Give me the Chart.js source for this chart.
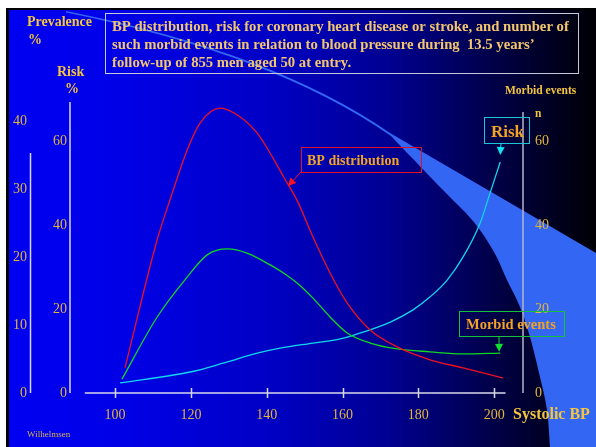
<!DOCTYPE html>
<html>
<head>
<meta charset="utf-8">
<script src="https://cdn.jsdelivr.net/npm/chart.js@4.4.1/dist/chart.umd.min.js"></script>
<style>
  html, body { margin: 0; padding: 0; background: #fff; }
  canvas { display: block; }
</style>
</head>
<body>
<canvas id="bpChart" width="596" height="447"></canvas>
<script>
// systolic BP ticks
const xTicks = [100, 120, 140, 160, 180, 200];
const prevTicks = [0, 10, 20, 30, 40];
const riskTicks = [0, 20, 40, 60];
const eventTicks = [0, 20, 40, 60];

// BP distribution (prevalence %)
const bpX = [102.6, 111.1, 114.5, 119.0, 122.4, 127.7, 133.0, 137.5, 141.7, 144.5, 148.0, 152.2, 156.7, 161.2, 167.3, 174.4, 183.1, 191.8, 202.4];
const bpPrevalence = [3.7, 22.6, 28.5, 35.8, 39.8, 42.0, 40.7, 38.3, 34.6, 31.8, 28.4, 23.0, 17.7, 13.3, 9.3, 6.8, 4.9, 3.7, 2.2];

// morbid events (n)
const eventX = [101.8, 111.1, 119.0, 124.3, 129.6, 134.8, 140.9, 144.9, 148.0, 152.2, 156.7, 161.2, 167.3, 174.4, 183.1, 191.8, 201.6];
const morbidEvents = [3.3, 18.1, 27.6, 32.9, 34.3, 33.3, 30.5, 28.3, 26.2, 22.6, 18.1, 14.3, 11.9, 10.5, 9.8, 9.3, 9.5];

// risk %
const riskX = [101.3, 119.8, 128.5, 137.5, 143.5, 152.2, 159.4, 165.4, 172.6, 178.6, 183.1, 187.6, 191.8, 196.3, 198.9, 201.6];
const riskPercent = [2.4, 5.0, 7.1, 9.5, 10.7, 11.9, 12.9, 14.5, 16.9, 19.8, 22.9, 26.9, 32.4, 40.5, 47.6, 55.0];

const GOLD = '#e2b53c';
const TITLE = '#f3c66e';
const CALLOUT = '#f2a224';
const SERIF = '"Liberation Serif", "Times New Roman", serif';

function pts(xs, ys) {
    return xs.map((x, i) => ({ x: x, y: ys[i] }));
}

function fixTicks(list) {
    return scale => { scale.ticks = list.map(v => ({ value: v })); };
}

// smooth curve through a list of [x, y], current point must be at p[0]
function smoothThrough(ctx, p) {
    for (let i = 0; i < p.length - 1; i++) {
        const p0 = p[i - 1] || p[i], p1 = p[i], p2 = p[i + 1], p3 = p[i + 2] || p[i + 1];
        ctx.bezierCurveTo(
            p1[0] + (p2[0] - p0[0]) / 6, p1[1] + (p2[1] - p0[1]) / 6,
            p2[0] - (p3[0] - p1[0]) / 6, p2[1] - (p3[1] - p1[1]) / 6,
            p2[0], p2[1]);
    }
}

function arrow(ctx, x1, y1, x2, y2, color) {
    const a = Math.atan2(y2 - y1, x2 - x1);
    ctx.strokeStyle = color;
    ctx.fillStyle = color;
    ctx.lineWidth = 1;
    ctx.beginPath();
    ctx.moveTo(x1, y1);
    ctx.lineTo(x2 - 5 * Math.cos(a), y2 - 5 * Math.sin(a));
    ctx.stroke();
    ctx.beginPath();
    ctx.moveTo(x2, y2);
    ctx.lineTo(x2 - 8 * Math.cos(a) + 4 * Math.sin(a), y2 - 8 * Math.sin(a) - 4 * Math.cos(a));
    ctx.lineTo(x2 - 8 * Math.cos(a) - 4 * Math.sin(a), y2 - 8 * Math.sin(a) + 4 * Math.cos(a));
    ctx.closePath();
    ctx.fill();
}

function callout(ctx, box, text, font, color, textX, textY) {
    ctx.strokeStyle = color;
    ctx.lineWidth = 1;
    ctx.strokeRect(box[0] + 0.5, box[1] + 0.5, box[2], box[3]);
    ctx.font = font;
    ctx.fillStyle = CALLOUT;
    ctx.textAlign = 'left';
    ctx.textBaseline = 'alphabetic';
    ctx.fillText(text, textX, textY);
}

const slideBackground = {
    id: 'slideBackground',
    beforeDraw(chart) {
        const ctx = chart.ctx;
        const w = chart.width, h = chart.height;
        ctx.save();
        ctx.fillStyle = '#ffffff';
        ctx.fillRect(0, 0, w, h);
        ctx.fillStyle = '#000000';
        ctx.fillRect(6, 8, w - 6, h - 8);
        const g = ctx.createLinearGradient(8, 0, w, 0);
        g.addColorStop(0, '#0000f2');
        g.addColorStop(0.2, '#0000e6');
        g.addColorStop(0.45, '#0000c4');
        g.addColorStop(0.65, '#000090');
        g.addColorStop(0.82, '#00004a');
        g.addColorStop(1, '#000005');
        ctx.fillStyle = g;
        ctx.fillRect(9, 10, w - 9, h - 10);

        // light blue swoosh
        ctx.fillStyle = '#3366f2';
        ctx.beginPath();
        ctx.moveTo(66, 11);
        ctx.quadraticCurveTo(273, 52, 390, 133);
        ctx.lineTo(w, 253);
        ctx.lineTo(w, h);
        ctx.lineTo(550, h);
        smoothThrough(ctx, [[550, h], [547, 410], [540, 377], [530, 337], [520, 307], [507, 280],
            [494, 252], [473, 221], [440, 187], [391, 136]]);
        ctx.quadraticCurveTo(273, 54, 66, 12.5);
        ctx.closePath();
        ctx.fill();
        ctx.restore();
    }
};

const slideText = {
    id: 'slideText',
    afterDraw(chart) {
        const ctx = chart.ctx;
        const s = chart.scales;
        ctx.save();

        // axis lines
        ctx.strokeStyle = '#d8d8ec';
        ctx.lineWidth = 1.5;
        ctx.beginPath();
        const ay = s.yRisk.bottom;
        ctx.moveTo(s.x.getPixelForValue(92), ay);
        ctx.lineTo(s.x.getPixelForValue(203), ay);
        xTicks.forEach(v => {
            const px = Math.round(s.x.getPixelForValue(v)) + 0.5;
            ctx.moveTo(px, ay - 5);
            ctx.lineTo(px, ay + 5);
        });
        ctx.stroke();
        ctx.beginPath();
        ctx.moveTo(s.yPrev.right - 0.5, s.yPrev.top + 51);
        ctx.lineTo(s.yPrev.right - 0.5, ay);
        ctx.moveTo(s.yRisk.right, s.yRisk.top);
        ctx.lineTo(s.yRisk.right, ay);
        ctx.stroke();
        ctx.strokeStyle = '#b4b4c8';
        ctx.beginPath();
        ctx.moveTo(s.yN.left, s.yN.top + 10);
        ctx.lineTo(s.yN.left, ay);
        ctx.stroke();

        // headings
        ctx.fillStyle = '#f4c53e';
        ctx.textBaseline = 'alphabetic';
        ctx.textAlign = 'left';
        ctx.font = 'bold 14px ' + SERIF;
        ctx.fillText('Prevalence', 27, 26);
        ctx.fillText('%', 28, 44);
        ctx.fillText('Risk', 57, 76);
        ctx.fillText('%', 65, 93);
        ctx.font = 'bold 11.5px ' + SERIF;
        ctx.fillText('Morbid events', 505, 94);
        ctx.fillText('n', 535, 117);
        ctx.font = 'bold 16px ' + SERIF;
        ctx.fillText('Systolic BP', 513, 419);
        ctx.font = '9px ' + SERIF;
        ctx.fillStyle = '#d8b050';
        ctx.fillText('Wilhelmsen', 27, 437);

        // title box
        ctx.strokeStyle = '#c8c8dc';
        ctx.lineWidth = 1;
        ctx.strokeRect(105.5, 13.5, 473, 60);
        ctx.fillStyle = TITLE;
        ctx.font = 'bold 14.7px ' + SERIF;
        ctx.fillText('BP distribution, risk for coronary heart disease or stroke, and number of', 112, 31);
        ctx.fillText('such morbid events in relation to blood pressure during  13.5 years\u2019', 112, 49);
        ctx.fillText('follow-up of 855 men aged 50 at entry.', 112, 67);

        // callouts
        callout(ctx, [301, 147, 120, 25], 'BP distribution', 'bold 14px ' + SERIF, '#e0102c', 307, 165);
        arrow(ctx, 301, 172, s.x.getPixelForValue(145.6), s.yPrev.getPixelForValue(30.5), '#ff1020');
        callout(ctx, [484, 117, 45, 26], 'Risk', 'bold 17px ' + SERIF, '#1cc4d6', 491, 137);
        arrow(ctx, 501, 143, s.x.getPixelForValue(201.6), s.yRisk.getPixelForValue(56.7), '#10e0f0');
        callout(ctx, [459, 311, 105, 25], 'Morbid events', 'bold 14.5px ' + SERIF, '#14c03c', 466, 329);
        arrow(ctx, 499, 336, s.x.getPixelForValue(201.3), s.yN.getPixelForValue(9.8), '#10e030');

        ctx.restore();
    }
};

const tickFont = { family: SERIF, size: 14 };

new Chart(document.getElementById('bpChart'), {
    type: 'line',
    data: {
        datasets: [
            { label: 'BP distribution', data: pts(bpX, bpPrevalence), yAxisID: 'yPrev', borderColor: '#f01020' },
            { label: 'Morbid events', data: pts(eventX, morbidEvents), yAxisID: 'yN', borderColor: '#10d820' },
            { label: 'Risk', data: pts(riskX, riskPercent), yAxisID: 'yRisk', borderColor: '#10d8ee' }
        ]
    },
    options: {
        responsive: false,
        animation: false,
        layout: { padding: { left: 6, right: 33, top: 102, bottom: 24 } },
        elements: {
            line: { borderWidth: 1.3, tension: 0.4, cubicInterpolationMode: 'monotone', fill: false },
            point: { radius: 0 }
        },
        plugins: { legend: { display: false }, tooltip: { enabled: false }, title: { display: false } },
        scales: {
            x: {
                type: 'linear', min: 88.1, max: 207.6,
                afterBuildTicks: fixTicks(xTicks),
                afterFit: scale => { scale.height = 30; },
                grid: { display: false, drawTicks: false },
                border: { display: false },
                ticks: { color: GOLD, font: tickFont, padding: 14 }
            },
            yPrev: {
                position: 'left', weight: 2, min: 0, max: 42.9,
                afterBuildTicks: fixTicks(prevTicks),
                afterFit: scale => { scale.width = 25; },
                grid: { display: false, drawTicks: false },
                border: { display: false },
                ticks: { color: GOLD, font: tickFont, padding: 4 }
            },
            yRisk: {
                position: 'left', weight: 1, min: 0, max: 69.3,
                afterBuildTicks: fixTicks(riskTicks),
                afterFit: scale => { scale.width = 39; },
                grid: { display: false, drawTicks: false },
                border: { display: false },
                ticks: { color: GOLD, font: tickFont, padding: 3 }
            },
            yN: {
                position: 'right', min: 0, max: 69.3,
                afterBuildTicks: fixTicks(eventTicks),
                afterFit: scale => { scale.width = 40; },
                grid: { display: false, drawTicks: false },
                border: { display: false },
                ticks: { color: GOLD, font: tickFont, padding: 12 }
            }
        }
    },
    plugins: [slideBackground, slideText]
});
</script>
</body>
</html>
